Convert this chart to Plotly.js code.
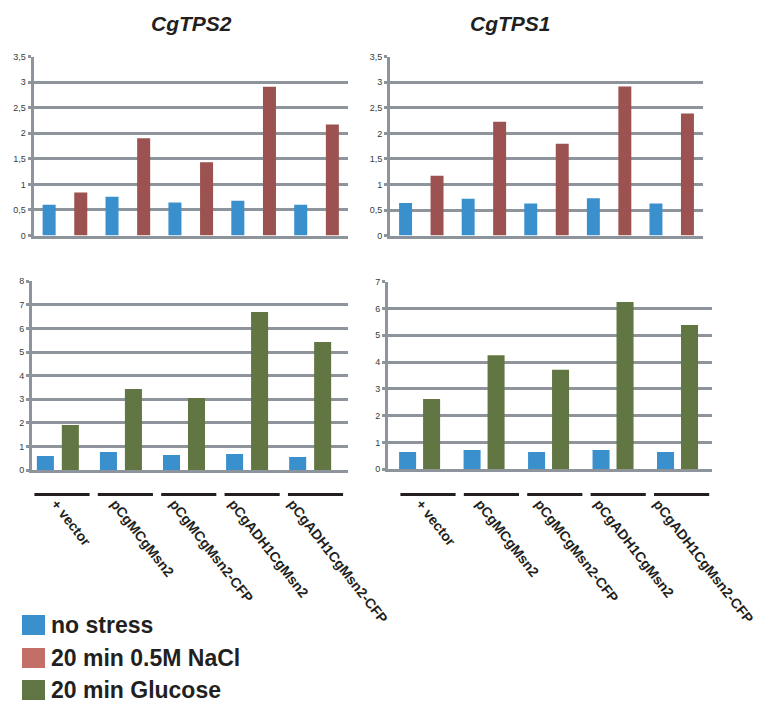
<!DOCTYPE html>
<html>
<head>
<meta charset="utf-8">
<script src="https://cdn.plot.ly/plotly-3.0.1.min.js"></script>
<style>html,body{margin:0;padding:0;background:#fff}#chart{width:762px;height:707px}</style>
</head>
<body>
<div id="chart"></div>
<script>
// ---------- data ----------
const categories = ['+ vector', 'pCgMCgMsn2', 'pCgMCgMsn2-CFP', 'pCgADH1CgMsn2', 'pCgADH1CgMsn2-CFP'];
const seriesNames = ['no stress', '20 min 0.5M NaCl', '20 min Glucose'];
const panelTitles = ['CgTPS2', 'CgTPS1'];

const tps2NoStressA = [0.60, 0.76, 0.645, 0.68, 0.60];
const tps2NaCl      = [0.84, 1.90, 1.43, 2.91, 2.17];
const tps1NoStressA = [0.64, 0.72, 0.63, 0.73, 0.63];
const tps1NaCl      = [1.17, 2.23, 1.80, 2.92, 2.39];

const tps2NoStressB = [0.59, 0.76, 0.64, 0.68, 0.55];
const tps2Glucose   = [1.91, 3.43, 3.05, 6.70, 5.43];
const tps1NoStressB = [0.65, 0.72, 0.65, 0.72, 0.65];
const tps1Glucose   = [2.62, 4.26, 3.71, 6.24, 5.38];

const topTickVals = [0, 0.5, 1, 1.5, 2, 2.5, 3, 3.5];
const topTickText = ['0', '0,5', '1', '1,5', '2', '2,5', '3', '3,5'];
const tps2GlcTicks = [0, 1, 2, 3, 4, 5, 6, 7, 8];
const tps1GlcTicks = [0, 1, 2, 3, 4, 5, 6, 7];

// ---------- styling ----------
const W = 762, H = 707;
const px = v => v / W;
const py = v => 1 - v / H;
const colBlue = '#3a90cd', colRed = '#9b5250', colGreen = '#617643';
const legendColors = ['#3a90cd', '#c46e68', '#5f7543'];
const gridCol = '#8d949b';
const FONT = 'Liberation Sans, Arial, sans-serif';
const idx = categories.map((c, i) => i);

function bar(y, color, xa, ya, offset, width, name) {
  return {type: 'bar', x: idx, y: y, xaxis: xa, yaxis: ya, name: name,
    marker: {color: color, line: {width: 0}}, offset: offset, width: width,
    showlegend: false, hoverinfo: 'y'};
}
function emptyTrace(xa, ya) {
  return {type: 'scatter', mode: 'markers', x: [], y: [], xaxis: xa, yaxis: ya, showlegend: false};
}

const data = [
  bar(tps2NoStressA, colBlue, 'x', 'y', -0.355, 0.207, seriesNames[0]),
  bar(tps2NaCl, colRed, 'x', 'y', 0.148, 0.207, seriesNames[1]),
  bar(tps1NoStressA, colBlue, 'x2', 'y2', -0.355, 0.207, seriesNames[0]),
  bar(tps1NaCl, colRed, 'x2', 'y2', 0.148, 0.207, seriesNames[1]),
  bar(tps2NoStressB, colBlue, 'x3', 'y3', -0.333, 0.27, seriesNames[0]),
  bar(tps2Glucose, colGreen, 'x3', 'y3', 0.063, 0.27, seriesNames[2]),
  bar(tps1NoStressB, colBlue, 'x4', 'y4', -0.318, 0.264, seriesNames[0]),
  bar(tps1Glucose, colGreen, 'x4', 'y4', 0.054, 0.264, seriesNames[2]),
  emptyTrace('x5', 'y5'), emptyTrace('x6', 'y6'),
  emptyTrace('x7', 'y7'), emptyTrace('x8', 'y8')
];

function xAx(d0, d1, r, anchor) {
  return {domain: [px(d0), px(d1)], range: r, anchor: anchor, showgrid: false, zeroline: false,
    showline: true, linecolor: gridCol, linewidth: 3, ticks: '', showticklabels: false, fixedrange: true};
}
function yAx(d0, d1, r, tv, tt, anchor) {
  return {domain: [py(d1), py(d0)], range: r, anchor: anchor, tickvals: tv, ticktext: tt,
    showgrid: true, gridcolor: gridCol, gridwidth: 3, zeroline: false,
    showline: true, linecolor: gridCol, linewidth: 3,
    ticks: 'outside', ticklen: 3, tickwidth: 3, tickcolor: gridCol,
    tickfont: {family: FONT, size: 9, color: '#3a3a3a'}, fixedrange: true};
}
// axes that carry the rotated category labels
function labAx(d0, d1, anchor) {
  return {domain: [px(d0), px(d1)], range: [-0.5, 4.5], anchor: anchor, tickvals: idx, ticktext: categories,
    tickangle: 52, showgrid: false, zeroline: false, showline: false, ticks: '',
    ticklabeloverflow: 'allow',
    tickfont: {family: FONT, size: 14, color: '#231f20', weight: 'bold'}, fixedrange: true};
}
// axes that carry the black category brackets
function segAx(d0, d1, anchor) {
  return {domain: [px(d0), px(d1)], range: [-0.5, 4.5], anchor: anchor, visible: false, fixedrange: true};
}
function hidY(d0, d1) {
  return {domain: [py(d1), py(d0)], range: [0, 1], visible: false, fixedrange: true};
}

const shapes = [];
['x7', 'x8'].forEach(xr => {
  idx.forEach(i => shapes.push({type: 'line', xref: xr, yref: 'paper',
    x0: i - 0.435, x1: i + 0.435, y0: py(494.5), y1: py(494.5), line: {color: '#231f20', width: 3}}));
});
const annotations = [];
const legendRows = [625, 658, 690];
seriesNames.forEach((n, i) => {
  shapes.push({type: 'rect', xref: 'paper', yref: 'paper', x0: px(22), x1: px(45),
    y0: py(legendRows[i] + 10), y1: py(legendRows[i] - 10), fillcolor: legendColors[i], line: {width: 0}});
  annotations.push({xref: 'paper', yref: 'paper', x: px(49), y: py(legendRows[i]), xanchor: 'left', yanchor: 'middle',
    text: n, showarrow: false, font: {family: FONT, size: 23, color: '#231f20', weight: 'bold'}});
});
const titleX = [191, 510];
panelTitles.forEach((t, i) => annotations.push({xref: 'paper', yref: 'paper', x: px(titleX[i]), y: py(23),
  xanchor: 'center', yanchor: 'middle', text: t, showarrow: false,
  font: {family: FONT, size: 21, color: '#231f20', weight: 'bold', style: 'italic'}}));

const layout = {
  width: W, height: H, margin: {l: 0, r: 0, t: 0, b: 0},
  paper_bgcolor: '#ffffff', plot_bgcolor: 'rgba(0,0,0,0)',
  barmode: 'overlay', showlegend: false,
  xaxis: xAx(33.5, 348, [-0.5, 4.5], 'y'),
  yaxis: yAx(56.5, 235.5, [0, 3.5], topTickVals, topTickText, 'x'),
  xaxis2: xAx(390, 703, [-0.5, 4.5], 'y2'),
  yaxis2: yAx(56.8, 235.6, [0, 3.5], topTickVals, topTickText, 'x2'),
  xaxis3: xAx(32, 348, [-0.41, 4.6], 'y3'),
  yaxis3: yAx(281.3, 470, [0, 8], tps2GlcTicks, tps2GlcTicks.map(String), 'x3'),
  xaxis4: xAx(388, 711.7, [-0.49, 4.53], 'y4'),
  yaxis4: yAx(281.7, 469.3, [0, 7], tps1GlcTicks, tps1GlcTicks.map(String), 'x4'),
  xaxis5: labAx(26.5, 322, 'y5'),
  yaxis5: hidY(489, 492),
  xaxis6: labAx(391.2, 687.8, 'y6'),
  yaxis6: hidY(489, 492),
  xaxis7: segAx(30.3, 347.2, 'y7'),
  yaxis7: hidY(489, 492),
  xaxis8: segAx(396.3, 713.3, 'y8'),
  yaxis8: hidY(489, 492),
  shapes: shapes,
  annotations: annotations
};

Plotly.newPlot('chart', data, layout, {displayModeBar: false, staticPlot: true});
</script>
</body>
</html>
